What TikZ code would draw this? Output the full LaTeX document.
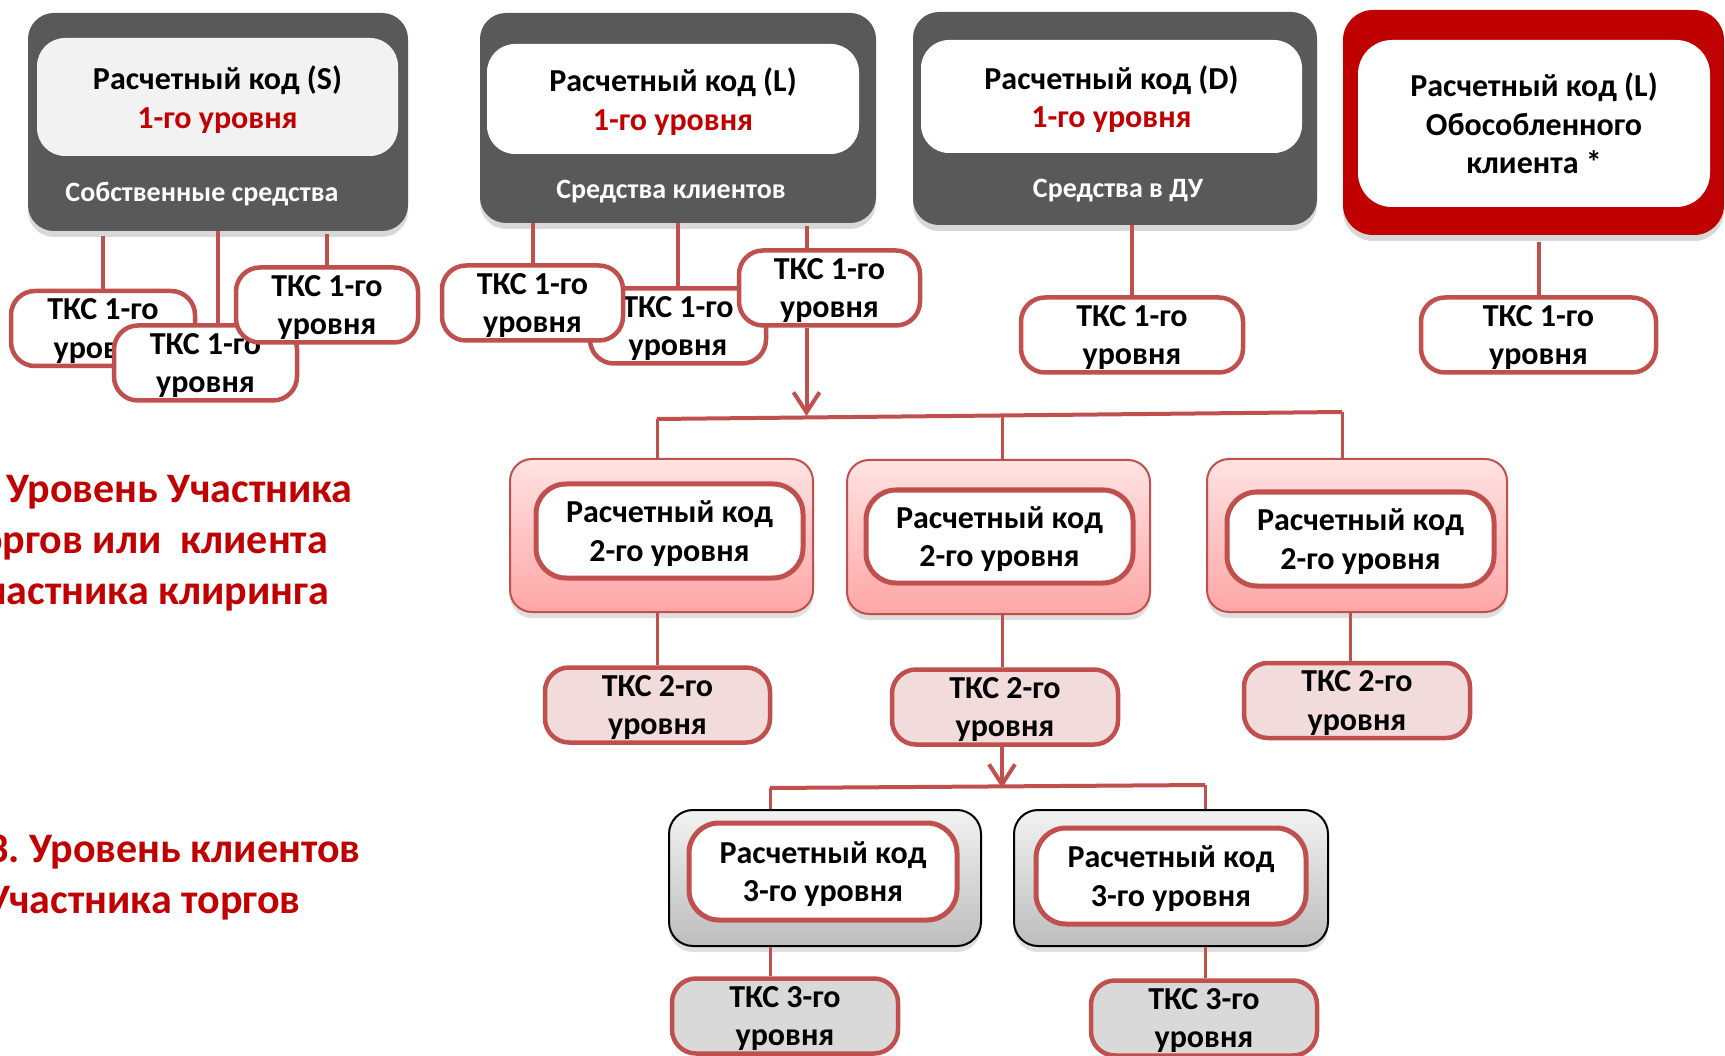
\documentclass[tikz,border=0pt]{standalone}
\usepackage{fontspec}
\setmainfont{Carlito}
\frenchspacing
\usetikzlibrary{arrows.meta,shadows}
\definecolor{capgray}{HTML}{595959}
\definecolor{capred}{HTML}{C00000}
\definecolor{linkred}{HTML}{C0504D}
\definecolor{tkspink}{HTML}{F2DCDB}
\definecolor{tksgray}{HTML}{D9D9D9}
\definecolor{pinktop}{HTML}{FFE3E3}
\definecolor{pinkbot}{HTML}{FFA6A6}
\definecolor{graytop}{HTML}{F2F2F2}
\definecolor{graybot}{HTML}{BDBDBD}
\begin{document}
\begin{tikzpicture}[x=1pt, y=-1pt,
  every node/.style={align=center, inner sep=0pt, text depth=0pt, font=\fontsize{32}{38.5}\selectfont\bfseries},
  capbox/.style={rectangle, rounded corners=26pt, fill=capgray, drop shadow={shadow xshift=0pt, shadow yshift=-6pt, opacity=0.3}},
  capinner/.style={rectangle, rounded corners=28pt, fill=white},
  captext/.style={text=white, font=\fontsize{28}{34}\selectfont\bfseries},
  tksbox/.style={rectangle, rounded corners=24pt, draw=linkred, line width=4.5pt, fill=white, minimum height=75pt},
  lvlbox/.style={rectangle, rounded corners=22pt, draw=linkred, line width=2pt, top color=pinktop, bottom color=pinkbot, drop shadow={shadow xshift=0pt, shadow yshift=-6pt, opacity=0.25}},
  lowbox/.style={rectangle, rounded corners=24pt, draw=black, line width=2pt, top color=graytop, bottom color=graybot, drop shadow={shadow xshift=0pt, shadow yshift=-6pt, opacity=0.25}},
  lvlinner/.style={rectangle, rounded corners=30pt, draw=linkred, line width=5pt, fill=white},
  link/.style={draw=linkred, line width=4pt},
  linkarrow/.style={link, -{Straight Barb[length=20pt, width=26pt]}},
  side/.style={anchor=west, align=left, text=capred, font=\fontsize{42}{51}\selectfont\bfseries}]
\fill[white] (0,0) rectangle (1725,1056);
\useasboundingbox (0,0) rectangle (1725,1056);
\clip (0,0) rectangle (1725,1056);

% level 1 settlement codes
\node[capbox, minimum width=380pt, minimum height=218pt] (capS) at (218,122) {};
\node[capinner, fill=graytop, minimum width=361pt, minimum height=118pt] (innS) at (217.5,97) {Расчетный код (S)\\\textcolor{capred}{1-го уровня}};
\node[captext] (subS) at (202,192) {Собственные средства};

\node[capbox, minimum width=396pt, minimum height=210pt] (capL) at (678,118) {};
\node[capinner, minimum width=372pt, minimum height=110pt] (innL) at (673,99) {Расчетный код (L)\\\textcolor{capred}{1-го уровня}};
\node[captext] (subL) at (671,189) {Средства клиентов};

\node[capbox, minimum width=404pt, minimum height=213pt] (capD) at (1115,118.5) {};
\node[capinner, minimum width=381pt, minimum height=113pt] (innD) at (1111.5,96.5) {Расчетный код (D)\\\textcolor{capred}{1-го уровня}};
\node[captext] (subD) at (1118,188) {Средства в ДУ};

\node[capbox, fill=capred, rounded corners=30pt, minimum width=381pt, minimum height=225pt] (capI) at (1533.5,122.5) {};
\node[capinner, rounded corners=34pt, minimum width=352pt, minimum height=167pt] (innI) at (1534,123.5) {Расчетный код (L)\\Обособленного\\клиента *};

% level 1 TKS
\node[tksbox, minimum width=184pt] (tksSa) at (103,328.5) {ТКС 1-го\\уровня};
\node[tksbox, minimum width=183pt] (tksSb) at (205.5,363) {ТКС 1-го\\уровня};
\node[tksbox, minimum width=182pt] (tksSc) at (327,305) {ТКС 1-го\\уровня};
\node[tksbox, minimum width=176pt] (tksLb) at (678,326) {ТКС 1-го\\уровня};
\node[tksbox, minimum width=181pt] (tksLa) at (532.5,303) {ТКС 1-го\\уровня};
\node[tksbox, minimum width=181pt] (tksLc) at (829.5,288) {ТКС 1-го\\уровня};
\node[tksbox, minimum width=222pt] (tksD) at (1132,335) {ТКС 1-го\\уровня};
\node[tksbox, minimum width=235pt] (tksI) at (1538.5,335) {ТКС 1-го\\уровня};

\coordinate (lcTop) at ([xshift=-23pt]tksLc.north);
\coordinate (lcBot) at ([xshift=-23pt]tksLc.south);

\draw[link, shorten <=5pt] (capS.south -| tksSa.north) -- (tksSa.north);
\draw[link] (capS.south) -- (capS.south |- tksSb.north);
\draw[link, shorten <=3pt] (capS.south -| tksSc.north) -- (tksSc.north);
\draw[link] (capL.south -| tksLa.north) -- (tksLa.north);
\draw[link] (capL.south -| tksLb.north) -- (tksLb.north);
\draw[link, shorten <=3pt] (lcTop |- capL.south) -- (lcTop);
\draw[link] (capD.south -| tksD.north) -- (tksD.north);
\draw[link, shorten <=7pt] (capI.south -| tksI.north) -- (tksI.north);

% level 2
\coordinate (busA) at (657,419);
\coordinate (busB) at (1002,416);
\coordinate (busC) at (1342,412);
\draw[linkarrow] (lcBot) -- (lcBot |- busB);
\draw[link] (busA) -- (busC);

\node[lvlbox, minimum width=303pt, minimum height=153pt] (rc2a) at (661.5,535.5) {};
\node[lvlinner, minimum width=267pt, minimum height=94pt] (in2a) at (669.5,531) {Расчетный код\\2-го уровня};
\node[lvlbox, minimum width=303pt, minimum height=154pt] (rc2b) at (998.5,537) {};
\node[lvlinner, minimum width=267pt, minimum height=93pt] (in2b) at (999.5,536.5) {Расчетный код\\2-го уровня};
\node[lvlbox, minimum width=300pt, minimum height=153pt] (rc2c) at (1357,535.5) {};
\node[lvlinner, minimum width=267pt, minimum height=94pt] (in2c) at (1360.5,539) {Расчетный код\\2-го уровня};

\draw[link, line width=3pt] (busA) -- (busA |- rc2a.north);
\draw[link, line width=3pt] (busB) -- (busB |- rc2b.north);
\draw[link, line width=3pt] (busC) -- (busC |- rc2c.north);

\node[tksbox, fill=tkspink, minimum width=225pt] (tks2a) at (657.5,705) {ТКС 2-го\\уровня};
\node[tksbox, fill=tkspink, minimum width=226pt] (tks2b) at (1005,707) {ТКС 2-го\\уровня};
\node[tksbox, fill=tkspink, minimum width=226pt] (tks2c) at (1357,700.5) {ТКС 2-го\\уровня};

\draw[link, line width=3pt] (rc2a.south -| tks2a.north) -- (tks2a.north);
\draw[link, line width=3pt] (rc2b.south -| busB) -- (tks2b.north -| busB);
\draw[link, line width=3pt] ([xshift=-7pt]rc2c.south) -- ([xshift=-7pt]tks2c.north);

% level 3
\coordinate (bus3A) at (770,788);
\coordinate (bus3B) at (1205,785);
\draw[linkarrow] (tks2b.south -| busB) -- (busB |- bus3A);
\draw[link] (bus3A) -- (bus3B);

\node[lowbox, minimum width=312pt, minimum height=136pt] (rc3a) at (825,878) {};
\node[lvlinner, minimum width=268pt, minimum height=97pt] (in3a) at (823,871.5) {Расчетный код\\3-го уровня};
\node[lowbox, minimum width=314pt, minimum height=136pt] (rc3b) at (1171,878) {};
\node[lvlinner, minimum width=270pt, minimum height=96pt] (in3b) at (1171,876) {Расчетный код\\3-го уровня};

\draw[link, line width=3pt] (bus3A) -- (bus3A |- rc3a.north);
\draw[link, line width=3pt] (bus3B) -- (bus3B |- rc3b.north);

\node[tksbox, fill=tksgray, minimum width=226pt] (tks3a) at (785,1016) {ТКС 3-го\\уровня};
\node[tksbox, fill=tksgray, minimum width=226pt] (tks3b) at (1204,1018) {ТКС 3-го\\уровня};

\draw[link, line width=3pt] (rc3a.south -| bus3A) -- (tks3a.north -| bus3A);
\draw[link, line width=3pt] (rc3b.south -| bus3B) -- (tks3b.north -| bus3B);

% level captions
\node[side] (lvlTwo) at (-36,540) {2. Уровень Участника\\торгов или\ \ клиента\\Участника клиринга};
\node[side] (lvlThree) at (-13,874) {3. Уровень клиентов\\Участника торгов};
\end{tikzpicture}
\end{document}
